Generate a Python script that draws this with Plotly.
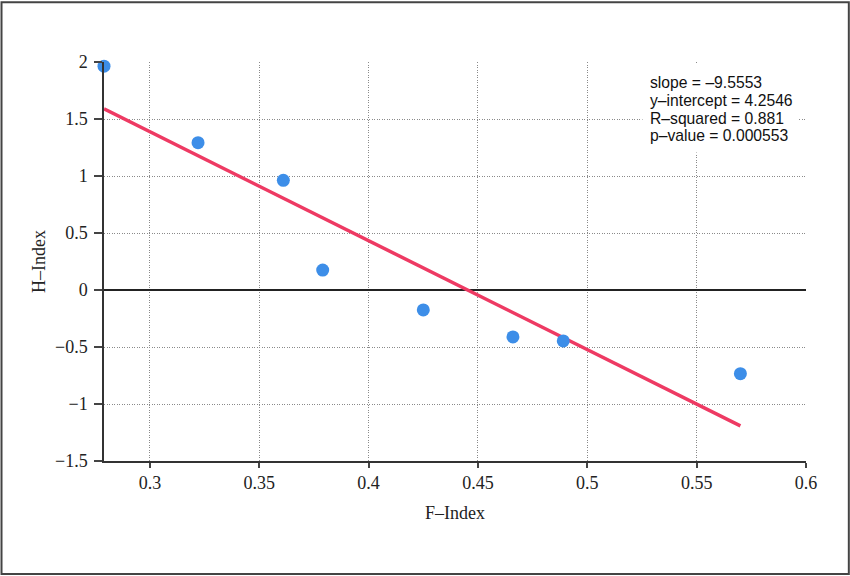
import plotly.graph_objects as go

# F-Index vs H-Index
f_index = [0.279, 0.322, 0.361, 0.379, 0.425, 0.466, 0.489, 0.570]
h_index = [1.963, 1.292, 0.962, 0.175, -0.175, -0.412, -0.447, -0.734]

# fitted line, as stated on the chart
slope = -9.5553
intercept = 4.2546
r_squared = 0.881
p_value = 0.000553

x_ticks = [0.3, 0.35, 0.4, 0.45, 0.5, 0.55, 0.6]
y_ticks = [-1.5, -1, -0.5, 0, 0.5, 1, 1.5, 2]

fit_x = [min(f_index), max(f_index)]
fit_y = [slope * v + intercept for v in fit_x]

fig = go.Figure()
fig.add_trace(go.Scatter(x=fit_x, y=fit_y, mode="lines",
                         line=dict(color="#ee3a63", width=3.5),
                         hoverinfo="skip", cliponaxis=False))
fig.add_trace(go.Scatter(x=f_index, y=h_index, mode="markers",
                         marker=dict(color="#3d8ee8", size=13),
                         cliponaxis=False))

serif = "Liberation Serif, Times New Roman, serif"
axis_common = dict(
    showgrid=True, gridcolor="#8a8a8a", griddash="1px,1.5px", gridwidth=1,
    showline=True, linecolor="#333333", linewidth=1.5,
    ticks="outside", tickcolor="#444444", tickwidth=1.5,
    tickfont=dict(family=serif, size=18, color="#222222"),
    mirror=False,
)

fig.update_xaxes(range=[0.279, 0.6], tickvals=x_ticks, ticklen=5,
                 zeroline=False,
                 title=dict(text="F–Index", font=dict(family=serif, size=18, color="#222222"),
                            standoff=14),
                 **axis_common)
fig.update_yaxes(range=[-1.5, 2], tickvals=y_ticks, ticklen=8,
                 ticklabelstandoff=3,
                 zeroline=True, zerolinecolor="#222222", zerolinewidth=1.8,
                 title=dict(text="H–Index", font=dict(family=serif, size=18, color="#222222"),
                            standoff=5),
                 **axis_common)

# white box behind the stats text (hides the grid there)
fig.add_annotation(xref="paper", yref="paper", x=0.878, y=0.8835,
                   xanchor="center", yanchor="middle", showarrow=False,
                   text=" ", width=155, height=87, borderpad=0, bgcolor="white")

note_lines = [f"slope = –{abs(slope)}", f"y–intercept = {intercept}",
              f"R–squared = {r_squared}", f"p–value = {p_value:.6f}"]
note_y = [0.9474, 0.9035, 0.8596, 0.8158]
for txt, ny in zip(note_lines, note_y):
    fig.add_annotation(xref="paper", yref="paper", x=0.7755, y=ny,
                       xanchor="left", yanchor="middle", showarrow=False,
                       text=txt, font=dict(family="Liberation Sans, Arial, sans-serif",
                                           size=15.7, color="#111111"))

# outer frame around the whole picture
fig.add_shape(type="rect", xref="paper", yref="paper",
              x0=-0.146, x1=1.061, y0=-0.283, y1=1.150,
              line=dict(color="#444444", width=2), fillcolor="rgba(0,0,0,0)")

fig.update_layout(
    width=850, height=576,
    margin=dict(l=104, r=44, t=62, b=115),
    paper_bgcolor="white", plot_bgcolor="white",
    showlegend=False,
)

fig.write_html("out.html", config={"displayModeBar": False},
               post_script="document.body.style.margin='0';")
